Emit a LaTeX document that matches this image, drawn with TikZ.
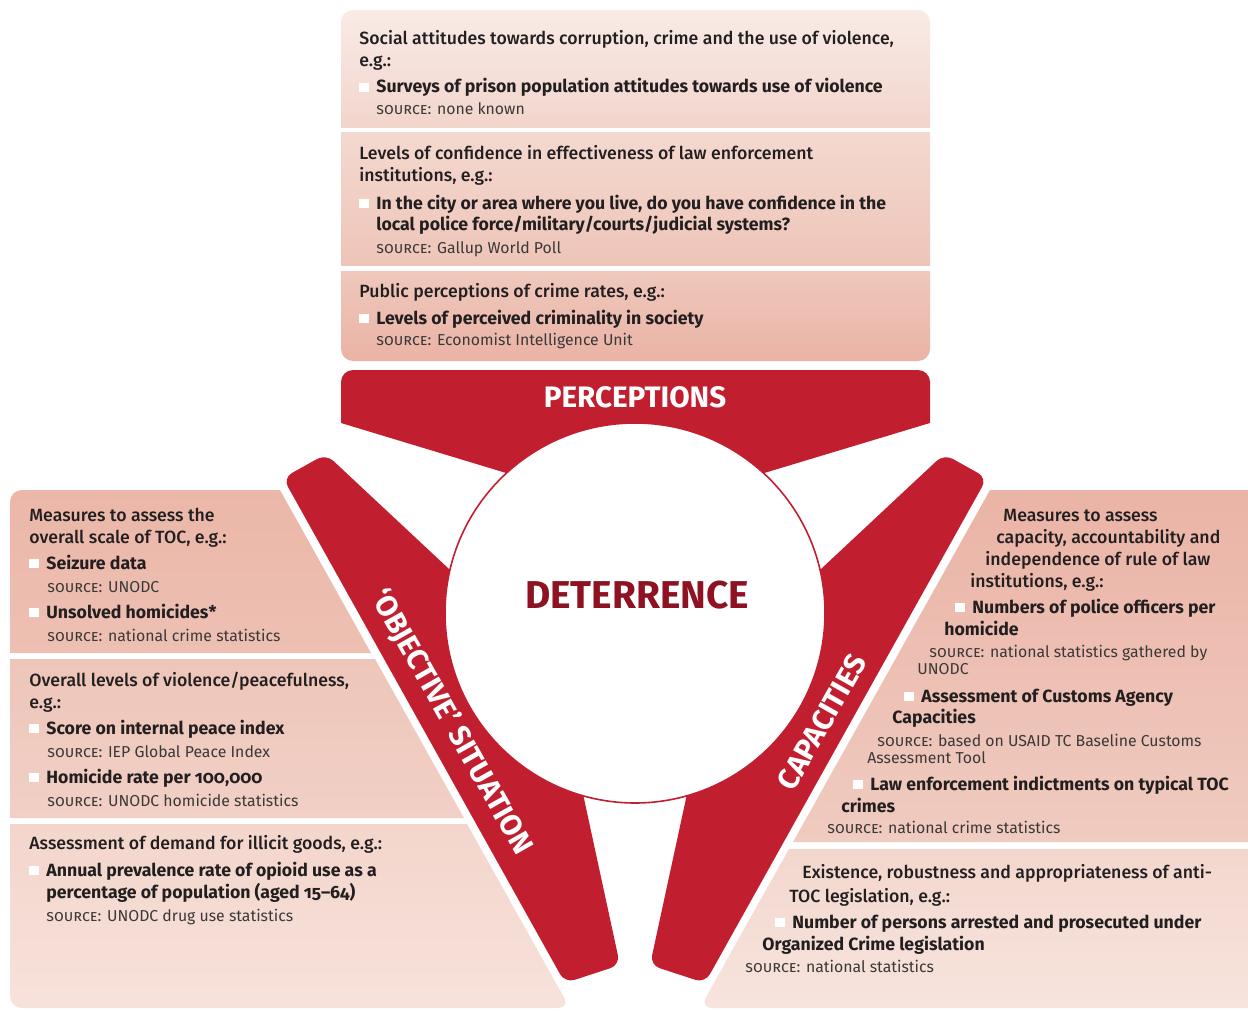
\documentclass[tikz,border=0pt]{standalone}
\usepackage{fontspec}
\setmainfont{Fira Sans}[Numbers=OldStyle]
\newfontfamily\medfont{Fira Sans Medium}[Numbers=OldStyle]
\newfontfamily\capfont{Fira Sans}
\definecolor{armred}{HTML}{C11F30}
\definecolor{corered}{HTML}{8E1222}
\definecolor{ink}{HTML}{231F20}
\definecolor{srcgrey}{HTML}{3B3838}
\newcommand\bul{{\color{white}\rule[0.4pt]{4.6pt}{4.6pt}}\hspace{3.9pt}}
\newcommand\src{\textsc{source:} }

\begin{document}
\begin{tikzpicture}[x=0.5pt, y=-0.5pt,
  hd/.style={anchor=base west, inner sep=0pt, text=ink,
    font=\fontsize{8.85}{10}\medfont},
  it/.style={hd, font=\fontsize{8.85}{10}\selectfont\bfseries},
  src/.style={hd, text=srcgrey, font=\fontsize{7.9}{9}\selectfont},
  band/.style={inner sep=0pt, text=white,
    font=\fontsize{14.8}{15}\capfont\bfseries}]
  \useasboundingbox (0,0) rectangle (1248,1011);

  \shade[top color={rgb,255:red,249;green,235;blue,230},
    bottom color={rgb,255:red,242;green,213;blue,204}]
    (341,128) -- (341,60) [rounded corners=6pt] -- (341,10) -- (930,10)
    -- (930,60) [sharp corners] -- (930,128) -- cycle;
  \shade[top color={rgb,255:red,244;green,217;blue,208},
    bottom color={rgb,255:red,238;green,196;blue,184}]
    (341,133) rectangle (930,265);
  \shade[top color={rgb,255:red,239;green,200;blue,188},
    bottom color={rgb,255:red,234;green,179;blue,165}]
    (341,271) -- (341,300) [rounded corners=6pt] -- (341,361) -- (930,361)
    -- (930,300) [sharp corners] -- (930,271) -- cycle;

  \shade[top color={rgb,255:red,235;green,183;blue,168},
    bottom color={rgb,255:red,237;green,192;blue,179}]
    (10,600) -- (10,540) [rounded corners=6pt] -- (10,490) -- (100,490)
    [sharp corners] -- (280,490) -- (371,653) -- (10,653) -- cycle;
  \shade[top color={rgb,255:red,238;green,197;blue,185},
    bottom color={rgb,255:red,241;green,208;blue,198}]
    (10,659) -- (375,659) -- (464,818) -- (10,818) -- cycle;
  \shade[top color={rgb,255:red,243;green,213;blue,203},
    bottom color={rgb,255:red,247;green,226;blue,219}]
    (10,824) -- (467,824) -- (519,917) [rounded corners=6pt] -- (570,1008)
    -- (10,1008) -- (10,950) [sharp corners] -- cycle;

  \shade[top color={rgb,255:red,234;green,180;blue,166},
    bottom color={rgb,255:red,240;green,203;blue,192}]
    (990,490) -- (1248,490) -- (1248,842) -- (793,842) -- cycle;
  \shade[top color={rgb,255:red,243;green,215;blue,206},
    bottom color={rgb,255:red,247;green,228;blue,221}]
    (789,849) -- (1248,849) -- (1248,1008) -- (800,1008) [rounded corners=6pt]
    -- (700,1008) -- (744,929) [sharp corners] -- cycle;

  \fill[armred] (341,423) -- (341,395) [rounded corners=6pt] -- (341,370)
    -- (930,370) -- (930,395) [sharp corners] -- (930,423) -- (635,512) -- cycle;
  \fill[armred, rounded corners=5pt] (283,478) -- (326,454) -- (556,669)
    -- (620,965) -- (565,983) -- cycle;
  \fill[armred, rounded corners=5pt] (987,478) -- (944,454) -- (714,669)
    -- (650,965) -- (705,983) -- cycle;
  \draw[armred, line width=0.8pt, fill=white] (635,613)
    ellipse [x radius=190, y radius=190];

  \node[band] (perceptions) at (635,397) {PERCEPTIONS};
  \node[band, rotate=-60.5] (objective) at (451,722) {‘OBJECTIVE’ SITUATION};
  \node[band, rotate=60.5] (capacities) at (822,722) {CAPACITIES};
  \node[inner sep=0pt, text=corered, font=\fontsize{19.4}{20}\capfont\bfseries]
    (deterrence) at (637,595) {DETERRENCE};

  \foreach \x/\y/\s/\t [count=\i] in {
    359/45/hd/{Social attitudes towards corruption, crime and the use of violence,},
    359/67/hd/{e.g.:},
    359/93/it/{\bul Surveys of prison population attitudes towards use of violence},
    376/115/src/{\src none known},
    359/160/hd/{Levels of confidence in effectiveness of law enforcement},
    359/182/hd/{institutions, e.g.:},
    359/209/it/{\bul In the city or area where you live, do you have confidence in the},
    376/230/it/{local police force/military/courts/judicial systems?},
    376/253/src/{\src Gallup World Poll},
    359/297/hd/{Public perceptions of crime rates, e.g.:},
    359/324/it/{\bul Levels of perceived criminality in society},
    376/345/src/{\src Economist Intelligence Unit}} {
    \node[\s] (top-\i) at (\x,\y) {\t};
  }
  \foreach \x/\y/\s/\t [count=\i] in {
    29/521/hd/{Measures to assess the},
    29/543/hd/{overall scale of TOC, e.g.:},
    29/569/it/{\bul Seizure data},
    47/592/src/{\src UNODC},
    29/618/it/{\bul Unsolved homicides*},
    47/641/src/{\src national crime statistics},
    29/686/hd/{Overall levels of violence/peacefulness,},
    29/708/hd/{e.g.:},
    29/734/it/{\bul Score on internal peace index},
    47/757/src/{\src IEP Global Peace Index},
    29/783/it/{\bul Homicide rate per 100,000},
    47/806/src/{\src UNODC homicide statistics},
    29/849/hd/{Assessment of demand for illicit goods, e.g.:},
    29/876/it/{\bul Annual prevalence rate of opioid use as a},
    46/898/it/{percentage of population (aged 15--64)},
    46/921/src/{\src UNODC drug use statistics}} {
    \node[\s] (left-\i) at (\x,\y) {\t};
  }
  \foreach \x/\y/\s/\t [count=\i] in {
    1003/521/hd/{Measures to assess},
    996/543/hd/{capacity, accountability and},
    985/565/hd/{independence of rule of law},
    970/587/hd/{institutions, e.g.:},
    955/613/it/{\bul Numbers of police officers per},
    944/635/it/{homicide},
    929/657/src/{\src national statistics gathered by},
    917/674/src/{UNODC},
    904/702/it/{\bul Assessment of Customs Agency},
    892/723/it/{Capacities},
    877/746/src/{\src based on USAID TC Baseline Customs},
    867/763/src/{Assessment Tool},
    853/790/it/{\bul Law enforcement indictments on typical TOC},
    841/812/it/{crimes},
    827/833/src/{\src national crime statistics},
    802/878/hd/{Existence, robustness and appropriateness of anti-},
    789/902/hd/{TOC legislation, e.g.:},
    775/928/it/{\bul Number of persons arrested and prosecuted under},
    762/950/it/{Organized Crime legislation},
    745/972/src/{\src national statistics}} {
    \node[\s] (right-\i) at (\x,\y) {\t};
  }
\end{tikzpicture}
\end{document}
